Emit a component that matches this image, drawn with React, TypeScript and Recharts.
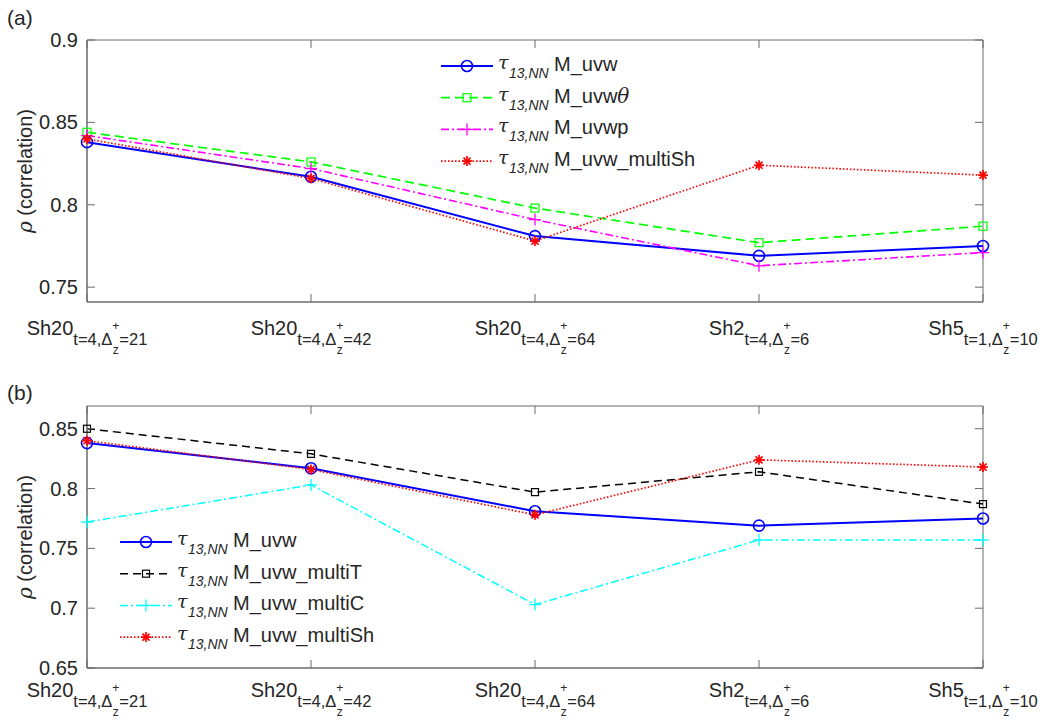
import React from 'react';
import { LineChart, Line, XAxis, YAxis, ReferenceArea, Legend } from 'recharts';

// category labels: Sh20_{t=4,Δz+=21} etc.
const categories = ['c1', 'c2', 'c3', 'c4', 'c5'];
const catMain = ['Sh20', 'Sh20', 'Sh20', 'Sh2', 'Sh5'];
const catT = ['4', '4', '4', '4', '1'];
const catDelta = ['21', '42', '64', '6', '10'];

// correlation values
const uvw = [0.838, 0.817, 0.781, 0.769, 0.775];
const uvwTheta = [0.844, 0.826, 0.798, 0.777, 0.787];
const uvwp = [0.842, 0.822, 0.791, 0.763, 0.771];
const uvwMultiSh = [0.840, 0.816, 0.778, 0.824, 0.818];
const uvwMultiT = [0.850, 0.829, 0.797, 0.814, 0.787];
const uvwMultiC = [0.772, 0.803, 0.703, 0.757, 0.757];

const ticksA = [0.75, 0.8, 0.85, 0.9];
const ticksB = [0.65, 0.7, 0.75, 0.8, 0.85];
const domainA = [0.741, 0.9];
const domainB = [0.65, 0.869];

const data = categories.map((c, i) => ({
  cat: c,
  uvw: uvw[i],
  uvwTheta: uvwTheta[i],
  uvwp: uvwp[i],
  uvwMultiSh: uvwMultiSh[i],
  uvwMultiT: uvwMultiT[i],
  uvwMultiC: uvwMultiC[i],
}));

const FONT = '"Liberation Sans", Arial, Helvetica, sans-serif';
const TXT = '#262626';
const AX = '#6a6a6a';
const PL = 87;   // plot left
const PR = 983;  // plot right
const PH = 262;  // plot height
const FS = 20;   // main font size

// marker shapes
type Marker = 'circle' | 'square' | 'plus' | 'star';
const drawMarker = (m: Marker, cx: number, cy: number, color: string, size: number, key?: any) => {
  if (m === 'circle') {
    return <circle key={key} cx={cx} cy={cy} r={size} fill="none" stroke={color} strokeWidth={1.6} />;
  }
  if (m === 'square') {
    return <rect key={key} x={cx - size} y={cy - size} width={size * 2} height={size * 2} fill="none" stroke={color} strokeWidth={1.2} />;
  }
  if (m === 'plus') {
    return (
      <g key={key} stroke={color} strokeWidth={1.3}>
        <line x1={cx - size} y1={cy} x2={cx + size} y2={cy} />
        <line x1={cx} y1={cy - size} x2={cx} y2={cy + size} />
      </g>
    );
  }
  const d = size * 0.7071;
  return (
    <g key={key} stroke={color} strokeWidth={1.7}>
      <line x1={cx - size} y1={cy} x2={cx + size} y2={cy} />
      <line x1={cx} y1={cy - size} x2={cx} y2={cy + size} />
      <line x1={cx - d} y1={cy - d} x2={cx + d} y2={cy + d} />
      <line x1={cx - d} y1={cy + d} x2={cx + d} y2={cy - d} />
    </g>
  );
};

interface Series {
  key: string;
  name: string;
  color: string;
  dash?: string;
  width: number;
  marker: Marker;
  size: number;
}

const seriesA: Series[] = [
  { key: 'uvw', name: 'M_uvw', color: '#0000ff', width: 2, marker: 'circle', size: 5.5 },
  { key: 'uvwTheta', name: 'M_uvw', color: '#00ff00', dash: '9 5', width: 1.7, marker: 'square', size: 4 },
  { key: 'uvwp', name: 'M_uvwp', color: '#ff00ff', dash: '8 3 2 3', width: 1.6, marker: 'plus', size: 6 },
  { key: 'uvwMultiSh', name: 'M_uvw_multiSh', color: '#ff0000', dash: '1.5 2', width: 1.7, marker: 'star', size: 5 },
];

const seriesB: Series[] = [
  { key: 'uvw', name: 'M_uvw', color: '#0000ff', width: 2, marker: 'circle', size: 5.5 },
  { key: 'uvwMultiT', name: 'M_uvw_multiT', color: '#000000', dash: '8 5', width: 1.5, marker: 'square', size: 3.5 },
  { key: 'uvwMultiC', name: 'M_uvw_multiC', color: '#00ffff', dash: '8 3 2 3', width: 1.5, marker: 'plus', size: 6 },
  { key: 'uvwMultiSh', name: 'M_uvw_multiSh', color: '#ff0000', dash: '1.5 2', width: 1.7, marker: 'star', size: 5 },
];

// approximate Arial advance widths (em)
const CW: Record<string, number> = {
  S: 0.667, h: 0.556, t: 0.278, '=': 0.584, ',': 0.278, '\u0394': 0.668, '+': 0.584, z: 0.5,
};
const textW = (s: string, size: number) =>
  s.split('').reduce((a, ch) => a + (CW[ch] ?? 0.556), 0) * size;

const makeXTick = (top: number, bottom: number, shift: number) => (props: any) => {
  const { x, payload, index } = props;
  const i = index ?? categories.indexOf(payload.value);
  const M = FS, s = 16.5, k = 12;
  const main = catMain[i];
  const p1 = `t=${catT[i]},\u0394`;
  const p2 = `=${catDelta[i]}`;
  const wMain = textW(main, M);
  const w1 = textW(p1, s);
  const wStack = textW('+', k);
  const w2 = textW(p2, s);
  const total = wMain + w1 + wStack + w2;
  const x0 = Math.min(x - total / 2, 1038 - total);
  const y = bottom + shift;
  return (
    <g>
      <line x1={x} y1={bottom} x2={x} y2={bottom - 8} stroke={AX} />
      <line x1={x} y1={top} x2={x} y2={top + 8} stroke={AX} />
      <g fontFamily={FONT} fill={TXT}>
        <text x={x0} y={y + 33} fontSize={M}>{main}</text>
        <text x={x0 + wMain} y={y + 43} fontSize={s}>{p1}</text>
        <text x={x0 + wMain + w1} y={y + 28} fontSize={k}>+</text>
        <text x={x0 + wMain + w1 + 0.5} y={y + 52} fontSize={k}>z</text>
        <text x={x0 + wMain + w1 + wStack} y={y + 43} fontSize={s}>{p2}</text>
      </g>
    </g>
  );
};

const YTick = (props: any) => {
  const { x, y, payload } = props;
  return (
    <g>
      <line x1={PL} y1={y} x2={PL + 8} y2={y} stroke={AX} />
      <line x1={PR} y1={y} x2={PR - 8} y2={y} stroke={AX} />
      <text x={x} y={y} dy="0.35em" textAnchor="end" fontFamily={FONT} fontSize={FS} fill={TXT}>
        {String(payload.value)}
      </text>
    </g>
  );
};

const YLabel = (props: any) => {
  const vb = props.viewBox || { y: 0, height: 0 };
  const cy = vb.y + vb.height / 2;
  return (
    <text x={32} y={cy} transform={`rotate(-90, 32, ${cy})`} textAnchor="middle" fontFamily={FONT} fontSize={FS} fill={TXT}>
      <tspan fontFamily='"DejaVu Serif", serif' fontStyle="italic">{'\u03c1'}</tspan>
      <tspan> (correlation)</tspan>
    </text>
  );
};

const LegendBox = ({ series, lineX, rowY }: { series: Series[]; lineX: number; rowY: number }) => (
  <svg width={330} height={140} style={{ display: 'block', overflow: 'visible' }}>
    {series.map((s, i) => {
      const cy = rowY + i * 31.7;
      const tx = lineX + 57;
      return (
        <g key={s.key}>
          <line x1={lineX} y1={cy} x2={lineX + 52} y2={cy} stroke={s.color} strokeWidth={s.width} strokeDasharray={s.dash} />
          {drawMarker(s.marker, lineX + 26, cy, s.color, s.size)}
          <text x={tx} y={cy + 3} fontFamily='"DejaVu Serif", serif' fontStyle="italic" fontSize={19} fill={TXT}>{'\u03c4'}</text>
          <text x={tx + 11} y={cy + 12} fontFamily={FONT} fontStyle="italic" fontSize={14} fill={TXT}>13,NN</text>
          <text x={tx + 56} y={cy + 5} fontFamily={FONT} fontSize={FS} fill={TXT}>
            {s.name}
            {s.key === 'uvwTheta' ? <tspan fontFamily='"DejaVu Serif", serif' fontStyle="italic">{'\u03b8'}</tspan> : null}
          </text>
        </g>
      );
    })}
  </svg>
);

const Panel = ({ series, domain, ticks, marginTop, xHeight, height, legendLeft, legendTop, lineX, rowY, labelShift }: any) => {
  const top = marginTop;
  const bottom = marginTop + PH;
  return (
    <LineChart width={1042} height={height} data={data} margin={{ top: marginTop, right: 1042 - PR, left: 0, bottom: 0 }}>
      <XAxis dataKey="cat" height={xHeight} tickSize={0} tickMargin={0} interval={0}
        axisLine={{ stroke: AX }} tickLine={false} tick={makeXTick(top, bottom, labelShift)} />
      <YAxis type="number" domain={domain} ticks={ticks} width={PL} allowDataOverflow tickSize={0} tickMargin={9}
        axisLine={{ stroke: AX }} tickLine={false} tick={<YTick />} label={<YLabel />} />
      <ReferenceArea x1={categories[0]} x2={categories[categories.length - 1]} y1={domain[0]} y2={domain[1]}
        fill="none" stroke={AX} strokeWidth={1} ifOverflow="visible" />
      {series.map((s: Series) => (
        <Line key={s.key} type="linear" dataKey={s.key} name={s.name} stroke={s.color} strokeWidth={s.width}
          strokeDasharray={s.dash} isAnimationActive={false} activeDot={false}
          dot={(p: any) => drawMarker(s.marker, p.cx, p.cy, s.color, s.size, `${s.key}-${p.index}`)} />
      ))}
      <Legend layout="vertical" align="center" verticalAlign="middle"
        wrapperStyle={{ left: legendLeft, top: legendTop, width: 330, height: 140 }}
        content={() => <LegendBox series={series} lineX={lineX} rowY={rowY} />} />
    </LineChart>
  );
};

export default function App() {
  return (
    <div style={{ position: 'absolute', left: 0, top: 0, width: 1042, height: 721, background: '#fff', fontFamily: FONT }}>
      <div style={{ position: 'absolute', left: 7, top: 7, fontSize: 21, lineHeight: '21px', color: TXT }}>(a)</div>
      <div style={{ position: 'absolute', left: 7, top: 382, fontSize: 21, lineHeight: '21px', color: TXT }}>(b)</div>
      <div style={{ position: 'absolute', left: 0, top: 0 }}>
        <Panel series={seriesA} domain={domainA} ticks={ticksA} marginTop={40} xHeight={58} height={360}
          legendLeft={430} legendTop={46} lineX={11} rowY={20} labelShift={0} />
      </div>
      <div style={{ position: 'absolute', left: 0, top: 360 }}>
        <Panel series={seriesB} domain={domainB} ticks={ticksB} marginTop={46} xHeight={53} height={361}
          legendLeft={110} legendTop={160} lineX={10} rowY={22} labelShift={-4} />
      </div>
    </div>
  );
}
